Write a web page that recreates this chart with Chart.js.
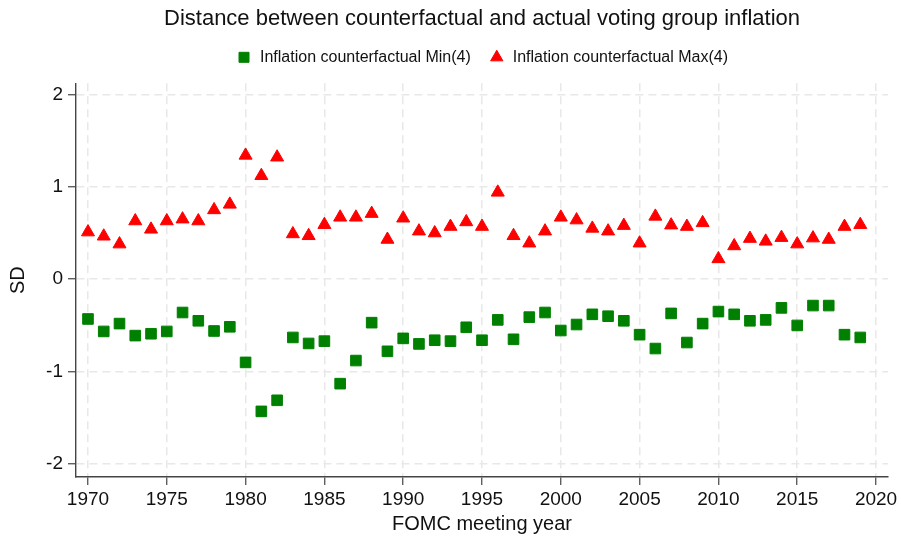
<!DOCTYPE html>
<html>
<head>
<meta charset="utf-8">
<script src="https://cdn.jsdelivr.net/npm/chart.js@4/dist/chart.umd.min.js"></script>
<style>
  html, body { margin: 0; padding: 0; background: #fff; }
  #wrap { width: 901px; height: 538px; position: relative; }
</style>
</head>
<body>
<div id="wrap"><canvas id="chart"></canvas></div>
<script>
const years = [
    1970, 1971, 1972, 1973, 1974, 1975, 1976, 1977, 1978, 1979,
    1980, 1981, 1982, 1983, 1984, 1985, 1986, 1987, 1988, 1989,
    1990, 1991, 1992, 1993, 1994, 1995, 1996, 1997, 1998, 1999,
    2000, 2001, 2002, 2003, 2004, 2005, 2006, 2007, 2008, 2009,
    2010, 2011, 2012, 2013, 2014, 2015, 2016, 2017, 2018, 2019
];

const minValues = [
    -0.43, -0.565, -0.48, -0.61, -0.59, -0.565, -0.36, -0.45, -0.56, -0.515,
    -0.90, -1.43, -1.31, -0.63, -0.695, -0.67, -1.13, -0.88, -0.47, -0.78,
    -0.64, -0.70, -0.66, -0.67, -0.52, -0.66, -0.44, -0.65, -0.41, -0.36,
    -0.555, -0.49, -0.38, -0.40, -0.45, -0.60, -0.75, -0.37, -0.685, -0.48,
    -0.35, -0.38, -0.45, -0.44, -0.31, -0.50, -0.285, -0.285, -0.60, -0.63
];

const maxValues = [
    0.51, 0.465, 0.38, 0.63, 0.54, 0.63, 0.65, 0.63, 0.75, 0.81,
    1.34, 1.12, 1.32, 0.49, 0.47, 0.59, 0.67, 0.67, 0.71, 0.43,
    0.66, 0.52, 0.50, 0.57, 0.62, 0.57, 0.94, 0.47, 0.39, 0.52,
    0.67, 0.64, 0.55, 0.52, 0.58, 0.39, 0.68, 0.585, 0.57, 0.61,
    0.22, 0.36, 0.44, 0.41, 0.45, 0.38, 0.445, 0.43, 0.57, 0.59
];

const xTicks = [1970, 1975, 1980, 1985, 1990, 1995, 2000, 2005, 2010, 2015, 2020];
const yTicks = [-2, -1, 0, 1, 2];

const GREEN = '#008000';
const RED = '#ff0000';
const AXIS = '#444444';
const GRID = '#e8e8e8';

Chart.defaults.font.family = '"Liberation Sans", Arial, Helvetica, sans-serif';
Chart.defaults.color = '#111';

const toPoints = (vals) => years.map((yr, i) => ({ x: yr, y: vals[i] }));

const chart = new Chart(document.getElementById('chart').getContext('2d'), {
    type: 'scatter',
    data: {
        datasets: [
            {
                label: 'Inflation counterfactual Min(4)',
                data: toPoints(minValues),
                pointStyle: 'rect',
                pointRadius: 7.5,
                pointBorderWidth: 1,
                backgroundColor: GREEN,
                borderColor: GREEN
            },
            {
                label: 'Inflation counterfactual Max(4)',
                data: toPoints(maxValues),
                pointStyle: 'triangle',
                pointRadius: 7.5,
                pointBorderWidth: 1,
                backgroundColor: RED,
                borderColor: RED
            }
        ]
    },
    options: {
        responsive: true,
        maintainAspectRatio: false,
        animation: false,
        layout: { padding: { left: 0, right: 13, top: 0, bottom: 0 } },
        plugins: {
            title: {
                display: true,
                fullSize: false,
                text: 'Distance between counterfactual and actual voting group inflation',
                color: '#111',
                font: { size: 22, weight: 'normal', lineHeight: 1.15 },
                padding: { top: 6, bottom: 0 }
            },
            legend: {
                display: true,
                fullSize: false,
                labels: {
                    usePointStyle: true,
                    boxHeight: 10,
                    padding: 18,
                    color: '#111',
                    font: { size: 16 }
                }
            },
            // empty spacer between the legend and the plot region
            subtitle: {
                display: true,
                text: '',
                weight: 500,
                padding: 0,
                font: { size: 8, lineHeight: 1 }
            },
            tooltip: { enabled: false }
        },
        scales: {
            x: {
                type: 'linear',
                min: 1969.24,
                max: 2020.76,
                afterFit: (scale) => { scale.height = 61; },
                afterBuildTicks: (scale) => { scale.ticks = xTicks.map((v) => ({ value: v })); },
                ticks: {
                    padding: 3,
                    color: '#111',
                    font: { size: 19 },
                    maxRotation: 0,
                    callback: (v) => String(v)
                },
                grid: {
                    color: GRID,
                    lineWidth: 1.5,
                    tickLength: 8,
                    tickColor: AXIS,
                    tickWidth: 1.2
                },
                border: { color: AXIS, width: 1.4, dash: [8, 5] },
                title: {
                    display: true,
                    text: 'FOMC meeting year',
                    color: '#111',
                    font: { size: 20 },
                    padding: { top: 0, bottom: 2 }
                }
            },
            y: {
                min: -2.14,
                max: 2.12,
                afterFit: (scale) => { scale.width = 76; },
                afterBuildTicks: (scale) => { scale.ticks = yTicks.map((v) => ({ value: v })); },
                ticks: {
                    padding: 5,
                    color: '#111',
                    font: { size: 19 },
                    callback: (v) => String(v)
                },
                grid: {
                    color: GRID,
                    lineWidth: 1.5,
                    tickLength: 8,
                    tickColor: AXIS,
                    tickWidth: 1.2
                },
                border: { color: AXIS, width: 1.4, dash: [8, 5] },
                title: {
                    display: true,
                    text: 'SD',
                    color: '#111',
                    font: { size: 20 },
                    padding: { top: 6, bottom: 0 }
                }
            }
        }
    }
});
</script>
</body>
</html>
